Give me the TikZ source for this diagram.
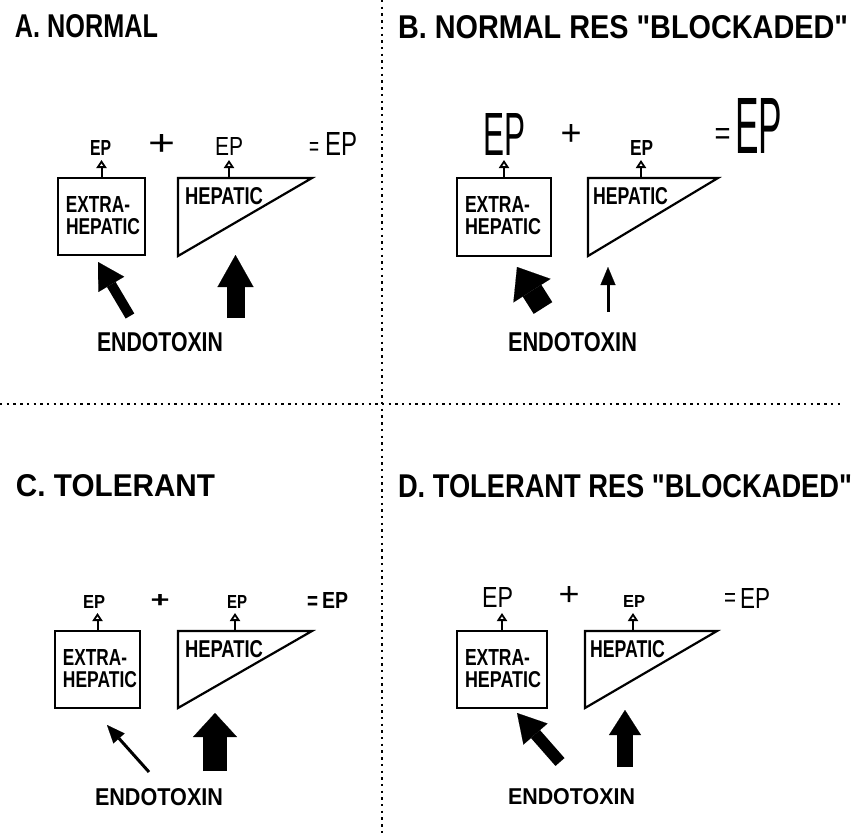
\documentclass[tikz,border=0pt]{standalone}
\usepackage{fontspec}
\setmainfont{Liberation Sans}[Ligatures=TeXOff]
\usepackage{graphicx}
\usetikzlibrary{arrows.meta}

% text scaled to a given width and cap height (in pt)
\newcommand{\sized}[3]{\resizebox{#1pt}{#2pt}{#3}}

\tikzset{
  divider/.style={line width=2.6pt, dash pattern=on 2.4pt off 4.3pt},
  organ/.style={draw, line width=2.2pt, line join=miter},
  organbox/.style={organ, rectangle, inner sep=0pt, outer sep=0pt, anchor=north west},
  eparrow/.style={line width=2pt, -{Triangle[open, width=10pt, length=8pt, line width=1.8pt]}},
  lbl/.style={inner sep=0pt, outer sep=0pt, anchor=south west},
  ctrlbl/.style={inner sep=0pt, outer sep=0pt, anchor=center},
  fatarrow/.style n args={3}{line width=#1pt, -{Triangle[width=#2pt, length=#3pt, line width=0.1pt]}},
  thinarrow/.style={line width=3pt, -{Triangle[width=15pt, length=18pt, line width=0.1pt]}},
}

\begin{document}
\begin{tikzpicture}[x=1pt, y=-1pt]
\useasboundingbox (0,0) rectangle (855,836);

% quadrant dividers
\draw[divider] (382,0) -- (382,836);
\draw[divider] (0,404) -- (842,404);

% ---------------- A. NORMAL ----------------
\node[lbl] (aTitle) at (15,38) {\sized{143}{23}{\bfseries A. NORMAL}};
\node[organbox, minimum width=87pt, minimum height=77pt] (aBox) at (58,178) {};
\node[lbl] (aExtraA) at (66,212) {\sized{64}{16}{\bfseries EXTRA-}};
\node[lbl] (aExtraB) at (66,235) {\sized{74}{16}{\bfseries HEPATIC}};
\coordinate (aT1) at (178,178); \coordinate (aT2) at (312,178); \coordinate (aT3) at (178,256);
\draw[organ] (aT1) -- (aT2) -- (aT3) -- cycle;
\node[lbl] (aHep) at (185,205) {\sized{78}{17}{\bfseries HEPATIC}};
\coordinate (aTriTop) at (229,178);
\node[lbl] (aEP1) at (90,155) {\sized{21}{15}{\bfseries EP}};
\node[lbl] (aEP2) at (215,155) {\sized{28}{18}{EP}};
\node[ctrlbl] (aPlus) at (161.5,145) {\sized{27}{21}{+}};
\node[ctrlbl] (aEq) at (314,149) {\sized{10}{13}{=}};
\node[lbl] (aSum) at (325,155) {\sized{32}{23}{EP}};
\draw[eparrow] (aBox.north) -- ++(0,-18);
\draw[eparrow] (aTriTop) -- ++(0,-18);
\coordinate (aTailX) at (130,316); \coordinate (aTipX) at (98,262);
\coordinate (aTailH) at (235.5,318); \coordinate (aTipH) at (235.5,255);
\draw[fatarrow={10}{30}{26}] (aTailX) -- (aTipX);
\draw[fatarrow={18}{36}{32}] (aTailH) -- (aTipH);
\node[lbl] (aEndo) at (97,352) {\sized{126}{19}{\bfseries ENDOTOXIN}};

% ---------------- B. NORMAL RES "BLOCKADED" ----------------
\node[lbl] (bTitle) at (398,39) {\sized{450}{23}{\bfseries B. NORMAL RES "BLOCKADED"}};
\node[organbox, minimum width=94pt, minimum height=78pt] (bBox) at (457,178) {};
\node[lbl] (bExtraA) at (465,212) {\sized{65}{16}{\bfseries EXTRA-}};
\node[lbl] (bExtraB) at (465,235) {\sized{76}{16}{\bfseries HEPATIC}};
\coordinate (bT1) at (588,178); \coordinate (bT2) at (718,178); \coordinate (bT3) at (588,256);
\draw[organ] (bT1) -- (bT2) -- (bT3) -- cycle;
\node[lbl] (bHep) at (593,205) {\sized{75}{17}{\bfseries HEPATIC}};
\coordinate (bTriTop) at (641,178);
\node[lbl] (bEP1) at (483,155) {\sized{42}{42}{EP}};
\node[lbl] (bEP2) at (630,155) {\sized{23}{15}{\bfseries EP}};
\node[ctrlbl] (bPlus) at (571,135) {\sized{21}{21}{+}};
\node[ctrlbl] (bEq) at (722.5,136) {\sized{16}{16}{=}};
\node[lbl] (bSum) at (735,153) {\sized{47}{55}{EP}};
\draw[eparrow] (bBox.north) -- ++(0,-18);
\draw[eparrow] (bTriTop) -- ++(0,-18);
\coordinate (bTailX) at (543,308); \coordinate (bTipX) at (517,267);
\coordinate (bTailH) at (608,312); \coordinate (bTipH) at (608,267);
\draw[fatarrow={22}{44}{28}] (bTailX) -- (bTipX);
\draw[thinarrow] (bTailH) -- (bTipH);
\node[lbl] (bEndo) at (508,352) {\sized{129}{19}{\bfseries ENDOTOXIN}};

% ---------------- C. TOLERANT ----------------
\node[lbl] (cTitle) at (16,497) {\sized{199}{22}{\bfseries C. TOLERANT}};
\node[organbox, minimum width=85pt, minimum height=77pt] (cBox) at (55,631) {};
\node[lbl] (cExtraA) at (63,665) {\sized{64}{16}{\bfseries EXTRA-}};
\node[lbl] (cExtraB) at (63,688) {\sized{74}{16}{\bfseries HEPATIC}};
\coordinate (cT1) at (178,631); \coordinate (cT2) at (312,631); \coordinate (cT3) at (178,708);
\draw[organ] (cT1) -- (cT2) -- (cT3) -- cycle;
\node[lbl] (cHep) at (185,658) {\sized{78}{17}{\bfseries HEPATIC}};
\coordinate (cTriTop) at (235,631);
\node[lbl] (cEP1) at (83,608) {\sized{22}{13}{\bfseries EP}};
\node[lbl] (cEP2) at (227,608) {\sized{20}{13}{\bfseries EP}};
\node[ctrlbl] (cPlus) at (160,601) {\sized{19}{13}{\bfseries +}};
\node[ctrlbl] (cEq) at (312.5,603) {\sized{11}{13}{\bfseries =}};
\node[lbl] (cSum) at (322,608) {\sized{26}{16}{\bfseries EP}};
\draw[eparrow] (cBox.north) -- ++(0,-18);
\draw[eparrow] (cTriTop) -- ++(0,-18);
\coordinate (cTailX) at (149,772); \coordinate (cTipX) at (107,725);
\coordinate (cTailH) at (215,771); \coordinate (cTipH) at (215,713);
\draw[thinarrow] (cTailX) -- (cTipX);
\draw[fatarrow={24}{44}{24}] (cTailH) -- (cTipH);
\node[lbl] (cEndo) at (95,806) {\sized{128}{17}{\bfseries ENDOTOXIN}};

% ---------------- D. TOLERANT RES "BLOCKADED" ----------------
\node[lbl] (dTitle) at (398,498) {\sized{454}{23}{\bfseries D. TOLERANT RES "BLOCKADED"}};
\node[organbox, minimum width=90pt, minimum height=77pt] (dBox) at (457,631) {};
\node[lbl] (dExtraA) at (465,665) {\sized{65}{16}{\bfseries EXTRA-}};
\node[lbl] (dExtraB) at (465,688) {\sized{76}{16}{\bfseries HEPATIC}};
\coordinate (dT1) at (585,631); \coordinate (dT2) at (717,631); \coordinate (dT3) at (585,708);
\draw[organ] (dT1) -- (dT2) -- (dT3) -- cycle;
\node[lbl] (dHep) at (590,658) {\sized{75}{17}{\bfseries HEPATIC}};
\coordinate (dTriTop) at (633,631);
\node[lbl] (dEP1) at (482,607) {\sized{31}{20}{EP}};
\node[lbl] (dEP2) at (623,607) {\sized{22}{12}{\bfseries EP}};
\node[ctrlbl] (dPlus) at (569,596) {\sized{21}{19}{+}};
\node[ctrlbl] (dEq) at (730,600) {\sized{12}{13}{=}};
\node[lbl] (dSum) at (740,608) {\sized{30}{20}{EP}};
\draw[eparrow] (dBox.north) -- ++(0,-18);
\draw[eparrow] (dTriTop) -- ++(0,-18);
\coordinate (dTailX) at (560,762); \coordinate (dTipX) at (517,713);
\coordinate (dTailH) at (625,767); \coordinate (dTipH) at (625,710);
\draw[fatarrow={12}{32}{28}] (dTailX) -- (dTipX);
\draw[fatarrow={16}{32}{25}] (dTailH) -- (dTipH);
\node[lbl] (dEndo) at (508,805) {\sized{127}{16}{\bfseries ENDOTOXIN}};
\end{tikzpicture}
\end{document}
